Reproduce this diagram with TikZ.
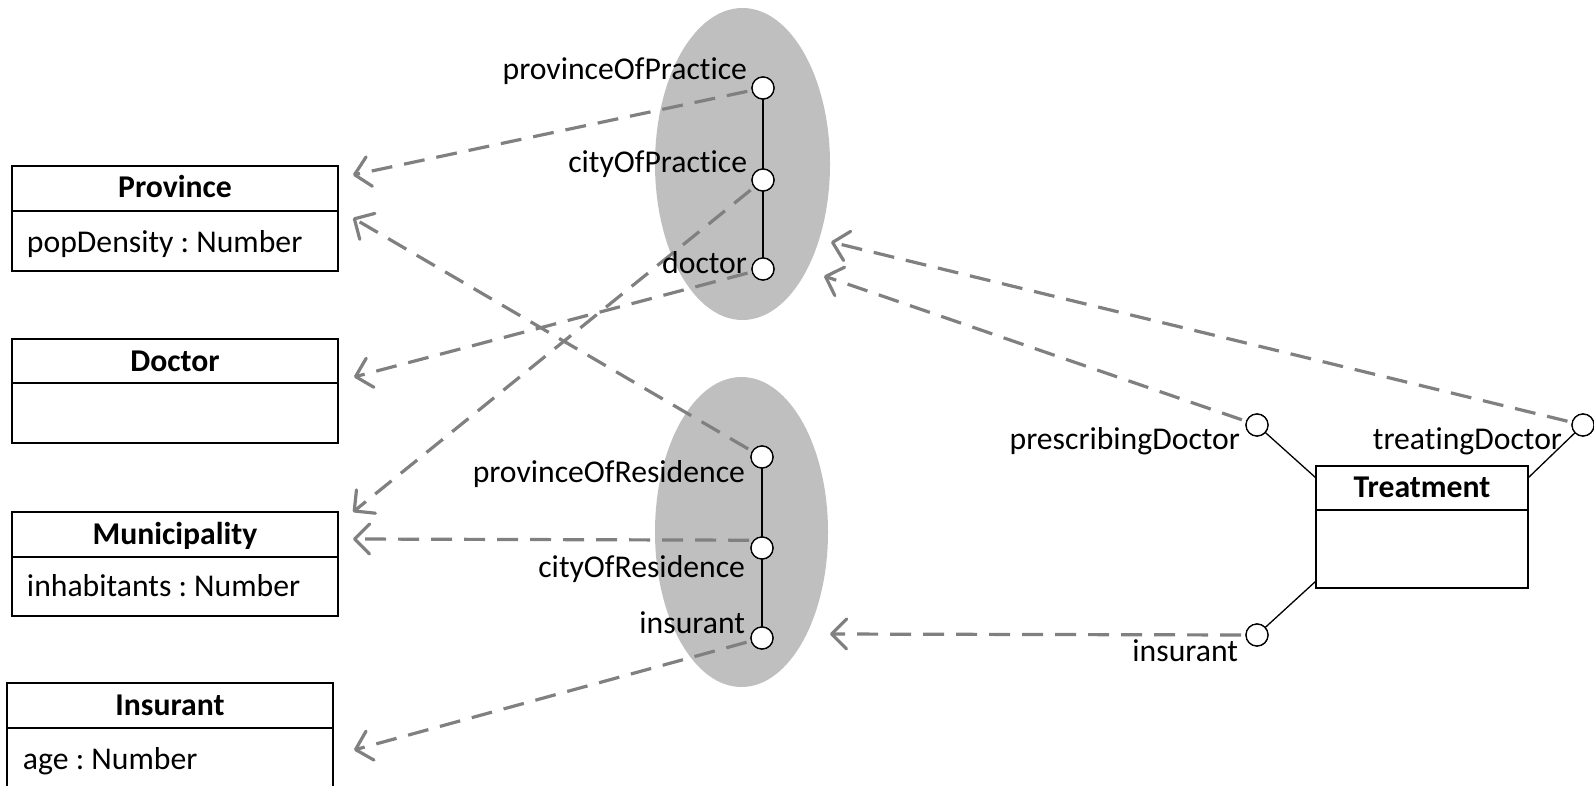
\documentclass[tikz,border=0pt]{standalone}
\usepackage{fontspec}
\setmainfont{Carlito}[RawFeature={-liga;-clig}]
\usetikzlibrary{arrows.meta,calc,shapes.geometric}
\definecolor{depgray}{HTML}{808080}
\definecolor{groupgray}{HTML}{BFBFBF}
\frenchspacing
\begin{document}
\begin{tikzpicture}[x=1pt,y=-1pt,
  every node/.style={inner sep=0pt, outer sep=0pt, font=\fontsize{31.7}{38}\selectfont},
  classbox/.style={draw=black, line width=1.3pt, rectangle, fill=white, minimum width=326pt},
  classtitle/.style={font=\fontsize{31.7}{38}\selectfont\bfseries, anchor=base},
  attr/.style={anchor=base west},
  role/.style={anchor=base east},
  port/.style={circle, draw=black, fill=white, line width=1.3pt, minimum size=22pt},
  link/.style={draw=black, line width=1.3pt},
  dep/.style={draw=depgray, line width=3.2pt, dash pattern=on 21pt off 12pt,
    -{Straight Barb[length=15pt,width=30pt,round]}, shorten <=5pt},
  group/.style={ellipse, fill=groupgray, draw=none}]

\useasboundingbox (0,0) rectangle (1594,786);
\clip (0,0) rectangle (1594,786);

% role groups
\node[group, minimum width=175pt, minimum height=312pt] (practice) at (742.5,164) {};
\node[group, minimum width=173pt, minimum height=310pt] (residence) at (741.5,532) {};

% ports
\node[port] (pop) at (763,88) {};
\node[port] (cop) at (763,180) {};
\node[port] (doc) at (763,269) {};
\node[port] (por) at (762,457) {};
\node[port] (cor) at (762,548) {};
\node[port] (ins) at (762,638) {};
\node[port] (pdoc) at (1257,425) {};
\node[port] (tdoc) at (1583,425) {};
\node[port] (insT) at (1257,635) {};

% classes
\node[classbox, minimum height=105pt] (province) at (175,218.5) {};
\node[classbox, minimum height=104pt] (doctor) at (175,391) {};
\node[classbox, minimum height=104pt] (municipality) at (175,564) {};
\node[classbox, minimum height=130pt] (insurant) at (170,748) {};
\node[classbox, minimum width=212pt, minimum height=122pt] (treat) at (1422,527) {};

\draw[link] ($(province.north west)+(0,45)$) -- ($(province.north east)+(0,45)$);
\draw[link] ($(doctor.north west)+(0,44)$) -- ($(doctor.north east)+(0,44)$);
\draw[link] ($(municipality.north west)+(0,45)$) -- ($(municipality.north east)+(0,45)$);
\draw[link] ($(insurant.north west)+(0,45)$) -- ($(insurant.north east)+(0,45)$);
\draw[link] ($(treat.north west)+(0,44)$) -- ($(treat.north east)+(0,44)$);

\node[classtitle] (provinceT) at (175,198) {Province};
\node[attr] (provinceA) at (27,252) {popDensity : Number};
\node[classtitle] (doctorT) at (175,371) {Doctor};
\node[classtitle] (municipalityT) at (175,544) {Municipality};
\node[attr] (municipalityA) at (27,596) {inhabitants : Number};
\node[classtitle] (insurantT) at (170,715) {Insurant};
\node[attr] (insurantA) at (23,769) {age : Number};
\node[classtitle] (treatT) at (1422,497) {Treatment};

% arrow targets
\coordinate (provA) at (353,175);
\coordinate (provB) at (353,218);
\coordinate (docA) at (354,377);
\coordinate (munA) at (353,512);
\coordinate (munB) at (353,539);
\coordinate (insA) at (354,750);
\coordinate (pracA) at (824,276);
\coordinate (pracB) at (831,242);
\coordinate (resA) at (830,634);

% dependencies
\draw[dep] (pop) -- (provA);
\draw[dep] (cop) -- (munA);
\draw[dep] (doc) -- (docA);
\draw[dep] (por) -- (provB);
\draw[dep] (cor.north west) -- (munB);
\draw[dep] (ins) -- (insA);
\draw[dep] (pdoc) -- (pracA);
\draw[dep] (tdoc) -- (pracB);
\draw[dep] (insT.west) -- (resA);

% role chains
\draw[link] (pop) -- (cop) -- (doc);
\draw[link] (por) -- (cor) -- (ins);
\draw[link] (pdoc) -- ($(treat.north west)+(0,12)$);
\draw[link] (tdoc) -- ($(treat.north east)+(0,12)$);
\draw[link] (insT) -- ($(treat.south west)+(0,-7)$);

% redraw ports over lines
\foreach \p/\x/\y in {pop/763/88, cop/763/180, doc/763/269, por/762/457, cor/762/548, ins/762/638, pdoc/1257/425, tdoc/1583/425, insT/1257/635}
  \node[port] at (\x,\y) {};

% role labels
\node[role] (popL) at (747,80) {provinceOfPractice};
\node[role] (copL) at (747,173) {cityOfPractice};
\node[role] (docL) at (747,273) {doctor};
\node[role] (porL) at (745,482) {provinceOfResidence};
\node[role] (corL) at (745,577) {cityOfResidence};
\node[role] (insL) at (745,633) {insurant};
\node[role] (pdocL) at (1240,449) {prescribingDoctor};
\node[role] (tdocL) at (1562,449) {treatingDoctor};
\node[role] (insTL) at (1238,661) {insurant};
\end{tikzpicture}
\end{document}
